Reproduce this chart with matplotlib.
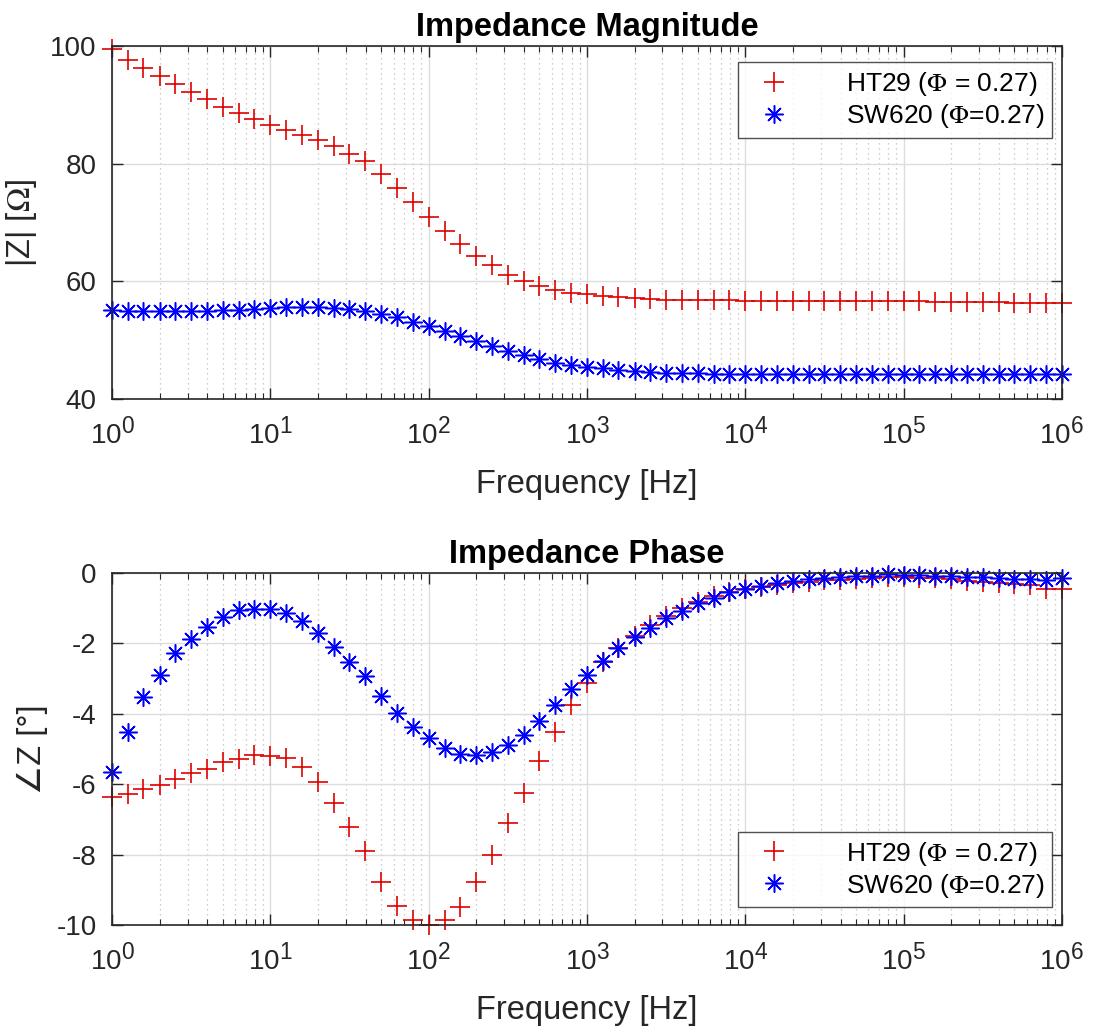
import numpy as np
import matplotlib
matplotlib.use('Agg')
import matplotlib.pyplot as plt
import matplotlib._mathtext as mtext
from matplotlib.ticker import LogLocator, NullFormatter

plt.rcParams['font.family'] = ['Liberation Sans', 'DejaVu Sans']
plt.rcParams['mathtext.fontset'] = 'stix'
# larger exponents on the 10^n tick labels
mtext.SHRINK_FACTOR = 0.82

# frequency grid, 10 points per decade from 1 Hz to 1 MHz
freq = [1.0, 1.26, 1.58, 2.0, 2.51, 3.16, 3.98, 5.01, 6.31, 7.94,
        10.0, 12.6, 15.8, 20.0, 25.1, 31.6, 39.8, 50.1, 63.1, 79.4,
        100, 126, 158, 200, 251, 316, 398, 501, 631, 794,
        1e3, 1.26e3, 1.58e3, 2e3, 2.51e3, 3.16e3, 3.98e3, 5.01e3, 6.31e3, 7.94e3,
        1e4, 1.26e4, 1.58e4, 2e4, 2.51e4, 3.16e4, 3.98e4, 5.01e4, 6.31e4, 7.94e4,
        1e5, 1.26e5, 1.58e5, 2e5, 2.51e5, 3.16e5, 3.98e5, 5.01e5, 6.31e5, 7.94e5,
        1e6]

mag_ht29 = [99.5, 97.7, 96.3, 94.9, 93.6, 92.2, 91.0, 89.7, 88.6, 87.6,
            86.6, 85.8, 84.9, 84.0, 83.0, 81.7, 80.4, 78.2, 75.8, 73.4,
            70.9, 68.5, 66.3, 64.3, 62.7, 61.1, 60.0, 59.2, 58.5, 58.1,
            57.8, 57.5, 57.3, 57.1, 57.0, 56.9, 56.9, 56.8, 56.8, 56.8,
            56.7, 56.7, 56.7, 56.7, 56.6, 56.6, 56.6, 56.6, 56.6, 56.6,
            56.6, 56.6, 56.5, 56.5, 56.5, 56.5, 56.5, 56.4, 56.4, 56.3,
            56.3]

mag_sw620 = [55.2, 55.0, 54.9, 54.9, 54.9, 55.0, 55.0, 55.1, 55.2, 55.3,
             55.45, 55.6, 55.7, 55.7, 55.5, 55.3, 55.0, 54.4, 53.9, 53.1,
             52.4, 51.6, 50.7, 49.8, 49.0, 48.1, 47.4, 46.8, 46.1, 45.8,
             45.5, 45.2, 44.9, 44.7, 44.6, 44.5, 44.4, 44.35, 44.3, 44.3,
             44.3, 44.3, 44.3, 44.3, 44.3, 44.3, 44.3, 44.3, 44.3, 44.3,
             44.3, 44.3, 44.3, 44.3, 44.3, 44.3, 44.3, 44.3, 44.3, 44.3,
             44.3]

ph_ht29 = [-6.36, -6.27, -6.13, -6.01, -5.85, -5.68, -5.56, -5.38, -5.27, -5.18,
           -5.19, -5.26, -5.51, -5.94, -6.53, -7.22, -7.89, -8.78, -9.45, -9.86,
           -10.0, -9.86, -9.48, -8.79, -8.02, -7.10, -6.25, -5.35, -4.51, -3.75,
           -3.11, -2.53, -2.12, -1.79, -1.48, -1.22, -0.98, -0.82, -0.66, -0.55,
           -0.46, -0.41, -0.34, -0.28, -0.24, -0.21, -0.19, -0.17, -0.15, -0.12,
           -0.12, -0.14, -0.15, -0.17, -0.22, -0.25, -0.28, -0.31, -0.34, -0.46,
           -0.44]

ph_sw620 = [-5.64, -4.51, -3.52, -2.89, -2.26, -1.88, -1.53, -1.26, -1.06, -1.01,
            -1.03, -1.13, -1.36, -1.70, -2.09, -2.52, -2.92, -3.49, -3.98, -4.38,
            -4.70, -4.97, -5.13, -5.18, -5.09, -4.88, -4.59, -4.21, -3.75, -3.30,
            -2.89, -2.50, -2.12, -1.81, -1.55, -1.29, -1.07, -0.86, -0.71, -0.55,
            -0.46, -0.36, -0.28, -0.23, -0.17, -0.14, -0.11, -0.09, -0.08, -0.03,
            -0.06, -0.06, -0.08, -0.08, -0.10, -0.12, -0.14, -0.17, -0.17, -0.19,
            -0.15]

xticks = [1, 10, 100, 1e3, 1e4, 1e5, 1e6]
xticklabels = [r'$\mathregular{10^{%d}}$' % i for i in range(7)]

lab_ht29 = r'HT29 ($\Phi$ = 0.27)'
lab_sw620 = r'SW620 ($\Phi$=0.27)'

asterisk = (8, 2, 0)
axcol = '#262626'

fig = plt.figure(figsize=(10.93, 10.27), dpi=100)
ax1 = fig.add_axes([0.1025, 0.6115, 0.869, 0.3437])
ax2 = fig.add_axes([0.1025, 0.0993, 0.869, 0.3427])


def style(ax):
	ax.set_xscale('log')
	ax.set_xlim(1, 1e6)
	ax.set_xticks(xticks)
	ax.set_xticklabels(xticklabels)
	ax.xaxis.set_minor_locator(LogLocator(base=10, subs=np.arange(2, 10), numticks=20))
	ax.xaxis.set_minor_formatter(NullFormatter())
	ax.grid(True, which='major', color='#dcdcdc', linewidth=1.0)
	ax.grid(True, which='minor', axis='x', color='#bdbdbd', linestyle=(0, (1, 3)), linewidth=0.9)
	ax.set_axisbelow(True)
	ax.tick_params(which='both', direction='in', top=True, right=True, colors=axcol,
				   labelsize=20, labelcolor=axcol)
	ax.tick_params(which='major', length=8, width=1.0)
	ax.tick_params(axis='y', which='major', pad=11)
	ax.tick_params(axis='x', which='major', pad=13)
	ax.tick_params(which='minor', length=4, width=0.8)
	for s in ax.spines.values():
		s.set_color(axcol)
		s.set_linewidth(1.2)
	ax.set_xlabel('Frequency [Hz]', fontsize=23.5, color=axcol, labelpad=14)


def legend(ax, loc, anchor):
	leg = ax.legend(loc=loc, fontsize=19, frameon=True, fancybox=False,
					edgecolor=axcol, borderpad=0.3, handletextpad=1.6, labelspacing=0.15,
					borderaxespad=0, bbox_to_anchor=anchor, handlelength=2.2)
	leg.get_frame().set_linewidth(1.0)
	return leg


ax1.plot(freq, mag_ht29, linestyle='none', marker='+', color='#e00000',
		 markersize=14, markeredgewidth=1.2, label=lab_ht29, clip_on=False)
ax1.plot(freq, mag_sw620, linestyle='none', marker=asterisk, color='#0000ff',
		 markersize=13, markeredgewidth=1.1, label=lab_sw620, clip_on=False)
style(ax1)
ax1.set_ylim(40, 100)
ax1.set_yticks([40, 60, 80, 100])
ax1.set_ylabel(r'|Z| [$\Omega$]', fontsize=23.5, color=axcol, labelpad=8)
ax1.set_title('Impedance Magnitude', fontsize=23.5, fontweight='bold', pad=7)
legend(ax1, 'upper right', (0.99, 0.955))

ax2.plot(freq, ph_ht29, linestyle='none', marker='+', color='#e00000',
		 markersize=14, markeredgewidth=1.2, label=lab_ht29, clip_on=False)
ax2.plot(freq, ph_sw620, linestyle='none', marker=asterisk, color='#0000ff',
		 markersize=13, markeredgewidth=1.1, label=lab_sw620, clip_on=False)
style(ax2)
ax2.set_ylim(-10, 0)
ax2.set_yticks([-10, -8, -6, -4, -2, 0])
ax2.set_yticklabels(['-10', '-8', '-6', '-4', '-2', '0'])
ax2.set_ylabel('\u2220Z [\u00b0]', fontsize=23.5, color=axcol, labelpad=6)
ax2.set_title('Impedance Phase', fontsize=23.5, fontweight='bold', pad=7)
legend(ax2, 'lower right', (0.99, 0.05))

fig.savefig('out.png', dpi=100)
